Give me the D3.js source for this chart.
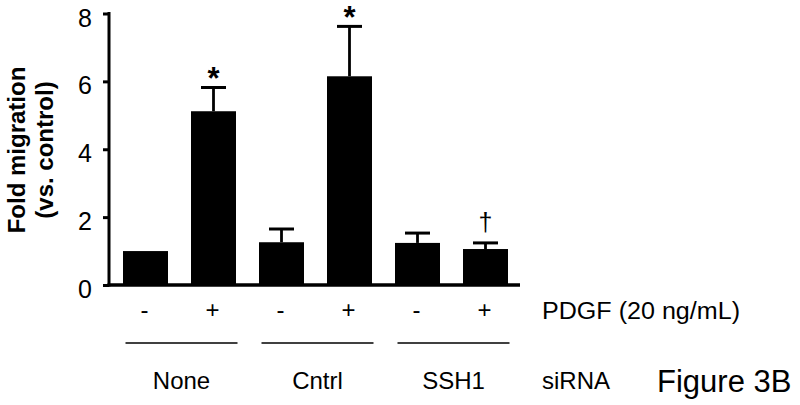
<!DOCTYPE html>
<html>
<head>
<meta charset="utf-8">
<script src="https://cdn.jsdelivr.net/npm/d3@7"></script>
<style>
  html, body { margin: 0; padding: 0; background: #fff; }
  svg { display: block; }
  text { font-family: "Liberation Sans", Arial, sans-serif; fill: #000; }
</style>
</head>
<body>
<svg id="chart" width="800" height="405"></svg>
<script>
// ---- data ----
const barIds = ["None-", "None+", "Cntrl-", "Cntrl+", "SSH1-", "SSH1+"];
const pdgfLabels = ["-", "+", "-", "+", "-", "+"];
const groups = ["None", "Cntrl", "SSH1"];
const values = [1.0, 5.12, 1.26, 6.15, 1.24, 1.06];
const errors = [0, 0.70, 0.39, 1.47, 0.29, 0.18];
const marks = ["", "*", "", "*", "", "†"];
const yTicks = [0, 2, 4, 6, 8];
const yLabelLines = ["Fold migration", "(vs. control)"];
const pdgfText = "PDGF (20 ng/mL)";
const sirnaText = "siRNA";
const figureText = "Figure 3B";

// ---- layout ----
const svg = d3.select("#chart");
const x = d3.scaleBand().domain(barIds).range([111.5, 519.5])
  .paddingInner(23 / 68).paddingOuter(23 / 136);
const y = d3.scaleLinear().domain([0, 8]).range([285, 13.5]);

// bars
svg.append("g").selectAll("rect").data(barIds).join("rect")
  .attr("x", d => x(d))
  .attr("width", x.bandwidth())
  .attr("y", (d, i) => y(values[i]))
  .attr("height", (d, i) => y(0) - y(values[i]))
  .attr("fill", "#000");

// error bars
const eg = svg.append("g").attr("stroke", "#000");
barIds.forEach((d, i) => {
  if (errors[i] <= 0) return;
  const cx = x(d) + x.bandwidth() / 2;
  eg.append("line").attr("x1", cx).attr("x2", cx)
    .attr("y1", y(values[i])).attr("y2", y(values[i] + errors[i]))
    .attr("stroke-width", 2.8);
  eg.append("line").attr("x1", cx - 12.5).attr("x2", cx + 12.5)
    .attr("y1", y(values[i] + errors[i])).attr("y2", y(values[i] + errors[i]))
    .attr("stroke-width", 3);
});

// significance marks
barIds.forEach((d, i) => {
  if (!marks[i]) return;
  const cx = x(d) + x.bandwidth() / 2;
  const top = y(values[i] + errors[i]);
  if (marks[i] === "*") {
    svg.append("text").attr("x", cx).attr("y", top + 2)
      .attr("text-anchor", "middle").attr("font-size", 31).attr("font-weight", "bold")
      .text(marks[i]);
  } else {
    svg.append("text").attr("x", cx).attr("y", top - 12)
      .attr("text-anchor", "middle").attr("font-size", 25)
      .text(marks[i]);
  }
});

// y axis
const yAxis = d3.axisLeft(y).tickValues(yTicks).tickSize(6).tickPadding(11).tickFormat(d3.format("d"));
const ya = svg.append("g").attr("transform", "translate(109,0)").call(yAxis);
ya.select(".domain").remove();
ya.selectAll(".tick line").attr("stroke", "#000").attr("stroke-width", 3);
ya.selectAll(".tick text").attr("font-size", 25).attr("dy", "0.5em")
  .attr("font-family", "Liberation Sans, Arial, sans-serif").attr("fill", "#000");
svg.append("line").attr("x1", 109).attr("x2", 109).attr("y1", y(8) - 1.5).attr("y2", y(0) + 1.5)
  .attr("stroke", "#000").attr("stroke-width", 3);
// x axis baseline
svg.append("line").attr("x1", 107.5).attr("x2", 520).attr("y1", y(0)).attr("y2", y(0))
  .attr("stroke", "#000").attr("stroke-width", 3.5);

// y label
const yl = svg.append("g").attr("transform", "translate(0,150)");
yLabelLines.forEach((t, i) => {
  yl.append("text").attr("transform", `translate(${25 + i * 28},0) rotate(-90)`)
    .attr("text-anchor", "middle").attr("font-size", 24).attr("font-weight", "bold")
    .text(t);
});

// PDGF +/- labels
svg.append("g").selectAll("text").data(barIds).join("text")
  .attr("x", d => x(d) + x.bandwidth() / 2 - 1)
  .attr("y", 318)
  .attr("text-anchor", "middle").attr("font-size", 24)
  .text((d, i) => pdgfLabels[i]);
svg.append("text").attr("x", 542).attr("y", 319).attr("font-size", 23)
  .attr("textLength", 198).attr("lengthAdjust", "spacingAndGlyphs").text(pdgfText);

// group lines and labels
groups.forEach((g, gi) => {
  const a = barIds[gi * 2], b = barIds[gi * 2 + 1];
  const c = (x(a) + x(b) + x.bandwidth()) / 2 + 2;
  svg.append("line").attr("x1", c - 56).attr("x2", c + 56).attr("y1", 343).attr("y2", 343)
    .attr("stroke", "#000").attr("stroke-width", 1.5);
  svg.append("text").attr("x", c).attr("y", 389).attr("text-anchor", "middle")
    .attr("font-size", 24).text(g);
});
svg.append("text").attr("x", 542).attr("y", 389).attr("font-size", 24).text(sirnaText);
svg.append("text").attr("x", 657).attr("y", 392).attr("font-size", 31).text(figureText);
</script>
</body>
</html>
